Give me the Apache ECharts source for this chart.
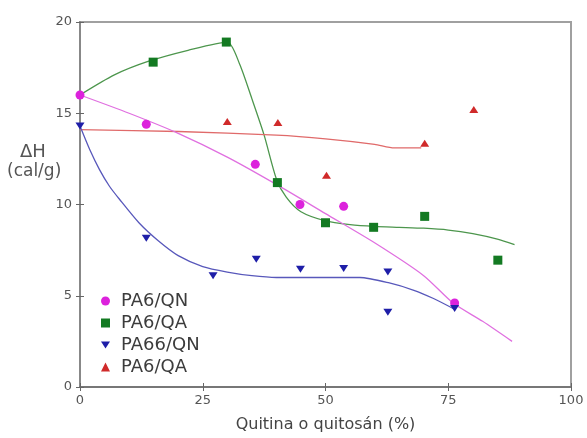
<!DOCTYPE html>
<html>
<head>
<meta charset="utf-8">
<script src="https://cdn.jsdelivr.net/npm/echarts@6/dist/echarts.min.js"></script>
<style>
  html, body { margin: 0; padding: 0; background: #ffffff; }
  #chart { width: 587px; height: 438px; }
</style>
</head>
<body>
<div id="chart"></div>
<script>
// Measured points: [composition %, ΔH cal/g]
const pa6QN  = [[0,16.0],[13.5,14.4],[35.7,12.2],[44.8,10.0],[53.7,9.9],[76.3,4.6]];
const pa6QA  = [[14.9,17.8],[29.8,18.9],[40.2,11.2],[50.0,9.0],[59.8,8.75],[70.2,9.35],[85.1,6.95]];
const pa66QN = [[0,14.3],[13.5,8.15],[27.1,6.1],[35.9,7.0],[44.9,6.45],[53.7,6.5],[62.7,6.3],[62.7,4.1],[76.3,4.3]];
const pa6QA2 = [[30.0,14.55],[40.3,14.5],[50.2,11.6],[70.2,13.35],[80.2,15.2]];

// Trend curves traced through each data set
const fitQN   = [[0,16.0],[10,15.0],[20,13.9],[30,12.6],[40,11.1],[50,9.5],[60,7.9],[70,6.1],[76,4.6],[82,3.6],[88,2.5]];
const fitQA   = [[0,16.0],[7,17.1],[14,17.85],[22,18.45],[30,18.9],[32.5,17.7],[35,15.8],[37.5,13.8],[40,11.4],[42,10.4],[45,9.6],[50,9.1],[55,8.9],[60,8.8],[65,8.75],[70,8.7],[75,8.6],[80,8.4],[85,8.1],[88.5,7.8]];
const fit66QN = [[0,14.3],[2,13.0],[4,11.9],[6,11.0],[8,10.3],[12,9.0],[16,8.0],[20,7.2],[25,6.6],[30,6.3],[35,6.1],[40,6.0],[50,6.0],[57,6.0],[63,5.7],[68,5.3],[72,4.85],[76,4.3]];
const fitQA2  = [[0,14.1],[20,14.0],[40,13.8],[50,13.6],[60,13.3],[64,13.1],[69.5,13.1]];

const seriesNames  = ['PA6/QN', 'PA6/QA', 'PA66/QN', 'PA6/QA (2)'];
const legendLabels = ['PA6/QN', 'PA6/QA', 'PA66/QN', 'PA6/QA'];

const xTicks = { min: 0, max: 100, interval: 25 };
const yTicks = { min: 0, max: 20, interval: 5 };

const font = 'DejaVu Sans, Arial, sans-serif';
const colors = {
  qn: '#dc22dc', qa: '#137a22', q66: '#1e1ea8', qa2: '#d02a2a',
  qnLine: '#e070e0', qaLine: '#4d964d', q66Line: '#5858bb', qa2Line: '#e06a6a'
};

const chart = echarts.init(document.getElementById('chart'), null, { renderer: 'canvas' });

function fitLine(data, color) {
  return {
    type: 'line', data: data, xAxisIndex: 0, yAxisIndex: 0,
    smooth: 0.25, showSymbol: false, silent: true, z: 1,
    lineStyle: { color: color, width: 1.3 }
  };
}
function points(name, data, symbol, size, color) {
  return {
    type: 'scatter', name: name, data: data, xAxisIndex: 0, yAxisIndex: 0,
    symbol: symbol, symbolSize: size, z: 3,
    itemStyle: { color: color, opacity: 1 }
  };
}

const downTri = 'path://M0,0L10,0L5,8Z';

chart.setOption({
  animation: false,
  backgroundColor: '#ffffff',
  grid: {
    left: 80, right: 16, top: 22, bottom: 48,
    show: true, borderColor: '#a0a0a0', borderWidth: 2, backgroundColor: 'transparent'
  },
  xAxis: [{
    type: 'value', position: 'bottom', min: xTicks.min, max: xTicks.max, interval: xTicks.interval,
    name: 'Quitina o quitosán (%)', nameLocation: 'middle', nameGap: 30,
    nameTextStyle: { fontFamily: font, fontSize: 16, color: '#444' },
    axisLine: { show: true, onZero: false, lineStyle: { color: '#777', width: 2 } },
    axisTick: { show: true, inside: false, length: 4, lineStyle: { color: '#666', width: 1 } },
    axisLabel: { fontFamily: font, fontSize: 13, color: '#555', margin: 7 },
    splitLine: { show: false }
  }, {
    type: 'value', position: 'bottom', min: xTicks.min, max: xTicks.max, interval: xTicks.interval,
    axisLine: { show: false, onZero: false },
    axisTick: { show: true, inside: true, length: 4, lineStyle: { color: '#666', width: 1 } },
    axisLabel: { show: false }, splitLine: { show: false }
  }],
  yAxis: [{
    type: 'value', position: 'left', min: yTicks.min, max: yTicks.max, interval: yTicks.interval,
    axisLine: { show: true, onZero: false, lineStyle: { color: '#888', width: 2 } },
    axisTick: { show: true, inside: false, length: 4, lineStyle: { color: '#666', width: 1 } },
    axisLabel: { fontFamily: font, fontSize: 13, color: '#555', margin: 8 },
    splitLine: { show: false }
  }, {
    type: 'value', position: 'left', min: yTicks.min, max: yTicks.max, interval: yTicks.interval,
    axisLine: { show: false, onZero: false },
    axisTick: { show: true, inside: true, length: 4, lineStyle: { color: '#666', width: 1 } },
    axisLabel: { show: false }, splitLine: { show: false }
  }],
  graphic: [{
    type: 'text', left: 20, top: 143,
    style: { text: 'ΔH', fontFamily: font, fontSize: 18, fill: '#555' }
  }, {
    type: 'text', left: 7, top: 163,
    style: { text: '(cal/g)', fontFamily: font, fontSize: 17, fill: '#555' }
  }],
  legend: {
    orient: 'vertical', left: 96, top: 287,
    data: seriesNames,
    itemWidth: 9, itemHeight: 9, itemGap: 4,
    formatter: function (name) { return legendLabels[seriesNames.indexOf(name)]; },
    textStyle: { fontFamily: font, fontSize: 18, lineHeight: 18, color: '#3c3c3c', padding: [0, 0, 0, 6] },
    selectedMode: false
  },
  series: [
    fitLine(fitQA, colors.qaLine),
    fitLine(fitQA2, colors.qa2Line),
    fitLine(fit66QN, colors.q66Line),
    fitLine(fitQN, colors.qnLine),
    points(seriesNames[0], pa6QN, 'circle', 9, colors.qn),
    points(seriesNames[1], pa6QA, 'rect', 9, colors.qa),
    points(seriesNames[2], pa66QN, downTri, [9, 7], colors.q66),
    points(seriesNames[3], pa6QA2, 'triangle', [9, 7], colors.qa2)
  ]
});
</script>
</body>
</html>
